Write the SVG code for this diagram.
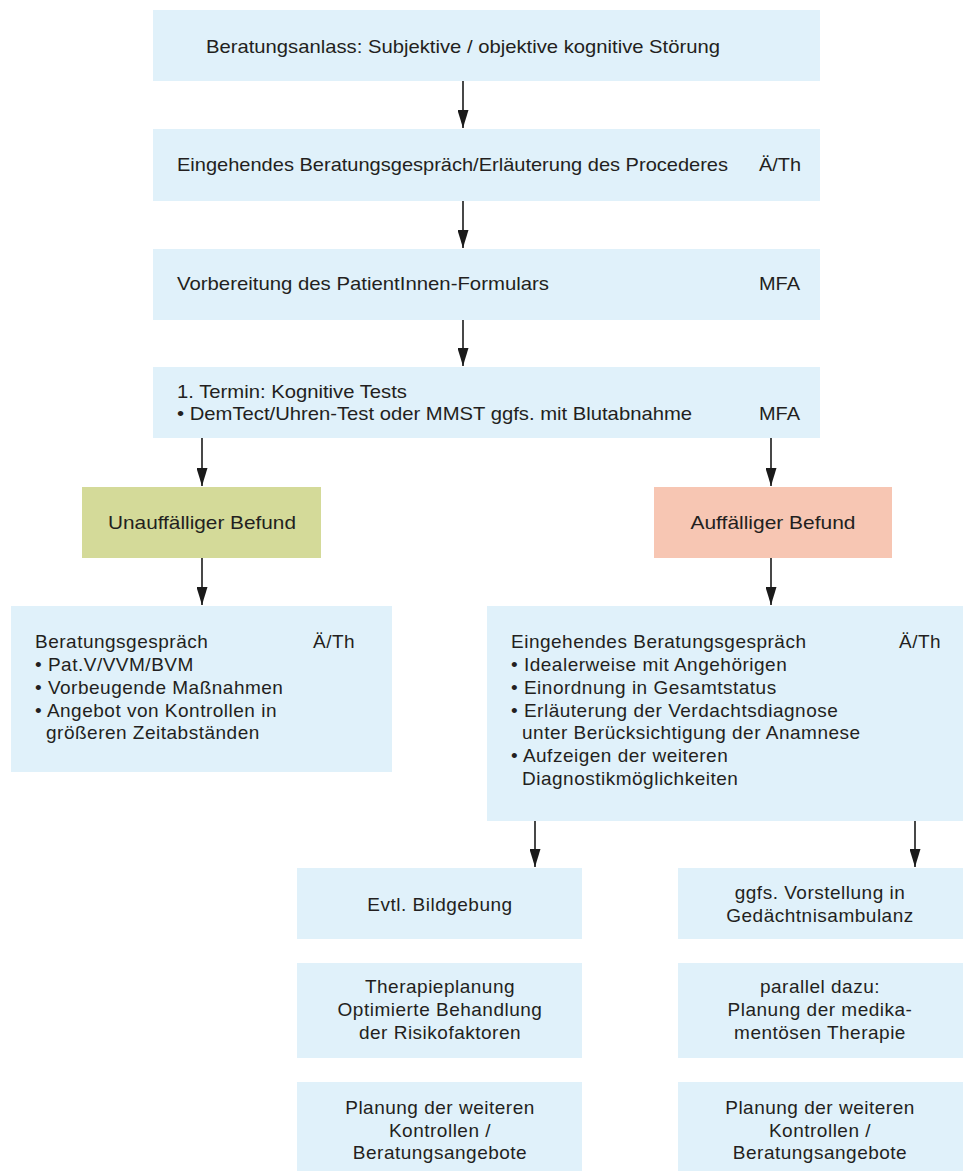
<svg xmlns="http://www.w3.org/2000/svg" width="963" height="1174" viewBox="0 0 963 1174">
<defs>
<style>
.box{fill:#e0f1fa}
.green{fill:#d4da99}
.red{fill:#f7c6b3}
.c{font-family:"Liberation Sans",Arial,sans-serif;font-size:19px;fill:#231f20}
.w{font-family:"Liberation Sans",Arial,sans-serif;font-size:19px;letter-spacing:0.5px;fill:#231f20}
.mid{text-anchor:middle}
.conn line{stroke:#1a1a1a;stroke-width:1.6}
</style>
<marker id="ah" markerWidth="18" markerHeight="11" refX="18" refY="5.5" orient="auto" markerUnits="userSpaceOnUse" viewBox="0 0 18 11">
<path d="M0,0 L18,5.5 L0,11 Z" fill="#1a1a1a"/>
</marker>
</defs>
<rect width="963" height="1174" fill="#fff"/>
<g class="conn">
<line x1="463" y1="81" x2="463" y2="128" marker-end="url(#ah)"/>
<line x1="463" y1="201" x2="463" y2="248" marker-end="url(#ah)"/>
<line x1="463" y1="320" x2="463" y2="366" marker-end="url(#ah)"/>
<line x1="202" y1="438" x2="202" y2="486" marker-end="url(#ah)"/>
<line x1="771" y1="438" x2="771" y2="486" marker-end="url(#ah)"/>
<line x1="202" y1="558" x2="202" y2="605" marker-end="url(#ah)"/>
<line x1="771" y1="558" x2="771" y2="605" marker-end="url(#ah)"/>
<line x1="535" y1="821" x2="535" y2="867" marker-end="url(#ah)"/>
<line x1="915" y1="821" x2="915" y2="867" marker-end="url(#ah)"/>
</g>
<g id="n1">
<rect class="box" x="153" y="10" width="667" height="71"/>
<text class="c" x="206" y="53" textLength="514" lengthAdjust="spacingAndGlyphs">Beratungsanlass: Subjektive / objektive kognitive Störung</text>
</g>
<g id="n2">
<rect class="box" x="153" y="129" width="667" height="72"/>
<text class="c" x="177" y="171" textLength="551" lengthAdjust="spacingAndGlyphs">Eingehendes Beratungsgespräch/Erläuterung des Procederes</text>
<text class="c" x="759" y="171" textLength="42" lengthAdjust="spacingAndGlyphs">Ä/Th</text>
</g>
<g id="n3">
<rect class="box" x="153" y="249" width="667" height="71"/>
<text class="c" x="177" y="290" textLength="372" lengthAdjust="spacingAndGlyphs">Vorbereitung des PatientInnen-Formulars</text>
<text class="c" x="759" y="290" textLength="41" lengthAdjust="spacingAndGlyphs">MFA</text>
</g>
<g id="n4">
<rect class="box" x="153" y="367" width="667" height="71"/>
<text class="c" x="177" y="398" textLength="230" lengthAdjust="spacingAndGlyphs">1. Termin: Kognitive Tests</text>
<text class="c" x="177" y="420" textLength="515" lengthAdjust="spacingAndGlyphs">• DemTect/Uhren-Test oder MMST ggfs. mit Blutabnahme</text>
<text class="c" x="759" y="420" textLength="41" lengthAdjust="spacingAndGlyphs">MFA</text>
</g>
<g id="n5">
<rect class="green" x="82" y="487" width="239" height="71"/>
<text class="c mid" x="202" y="529" textLength="188" lengthAdjust="spacingAndGlyphs">Unauffälliger Befund</text>
</g>
<g id="n6">
<rect class="red" x="654" y="487" width="238" height="71"/>
<text class="c mid" x="773" y="529" textLength="165" lengthAdjust="spacingAndGlyphs">Auffälliger Befund</text>
</g>
<g id="n7">
<rect class="box" x="11" y="606" width="381" height="166"/>
<text class="w" x="35" y="648">Beratungsgespräch</text>
<text class="w" x="313" y="648">Ä/Th</text>
<text class="w" x="35" y="671">• Pat.V/VVM/BVM</text>
<text class="w" x="35" y="694">• Vorbeugende Maßnahmen</text>
<text class="w" x="35" y="717">• Angebot von Kontrollen in</text>
<text class="w" x="46" y="739">größeren Zeitabständen</text>
</g>
<g id="n8">
<rect class="box" x="487" y="606" width="476" height="215"/>
<text class="w" x="511" y="648">Eingehendes Beratungsgespräch</text>
<text class="w" x="899" y="648">Ä/Th</text>
<text class="w" x="511" y="671">• Idealerweise mit Angehörigen</text>
<text class="w" x="511" y="694">• Einordnung in Gesamtstatus</text>
<text class="w" x="511" y="717">• Erläuterung der Verdachtsdiagnose</text>
<text class="w" x="522" y="739">unter Berücksichtigung der Anamnese</text>
<text class="w" x="511" y="762">• Aufzeigen der weiteren</text>
<text class="w" x="522" y="785">Diagnostikmöglichkeiten</text>
</g>
<g id="n9">
<rect class="box" x="297" y="868" width="285" height="71"/>
<text class="w mid" x="440" y="911">Evtl. Bildgebung</text>
</g>
<g id="n10">
<rect class="box" x="297" y="963" width="285" height="95"/>
<text class="w mid" x="440" y="993">Therapieplanung</text>
<text class="w mid" x="440" y="1016">Optimierte Behandlung</text>
<text class="w mid" x="440" y="1039">der Risikofaktoren</text>
</g>
<g id="n11">
<rect class="box" x="297" y="1082" width="285" height="89"/>
<text class="w mid" x="440" y="1114">Planung der weiteren</text>
<text class="w mid" x="440" y="1137">Kontrollen /</text>
<text class="w mid" x="440" y="1159">Beratungsangebote</text>
</g>
<g id="n12">
<rect class="box" x="678" y="868" width="285" height="71"/>
<text class="w mid" x="820" y="899">ggfs. Vorstellung in</text>
<text class="w mid" x="820" y="922">Gedächtnisambulanz</text>
</g>
<g id="n13">
<rect class="box" x="678" y="963" width="285" height="95"/>
<text class="w mid" x="820" y="993">parallel dazu:</text>
<text class="w mid" x="820" y="1016">Planung der medika-</text>
<text class="w mid" x="820" y="1039">mentösen Therapie</text>
</g>
<g id="n14">
<rect class="box" x="678" y="1082" width="285" height="89"/>
<text class="w mid" x="820" y="1114">Planung der weiteren</text>
<text class="w mid" x="820" y="1137">Kontrollen /</text>
<text class="w mid" x="820" y="1159">Beratungsangebote</text>
</g>
</svg>
